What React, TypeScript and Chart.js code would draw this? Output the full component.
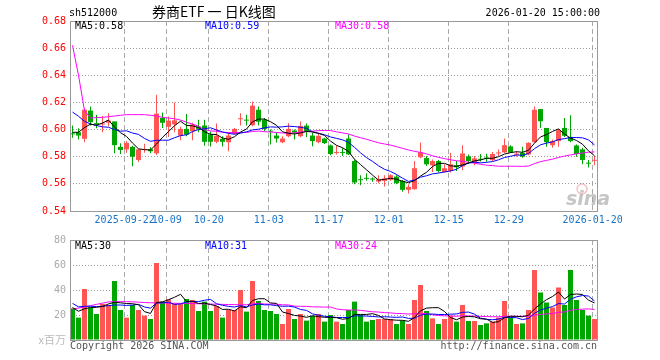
import React, { useEffect, useRef } from "react";
import { Chart, registerables } from "chart.js";
Chart.register(...registerables);

// ---------------- data ----------------
const dates = [
  "2025-09-09","2025-09-10","2025-09-11","2025-09-12","2025-09-15","2025-09-16","2025-09-17","2025-09-18","2025-09-19","2025-09-22",
  "2025-09-23","2025-09-24","2025-09-25","2025-09-26","2025-09-29","2025-09-30","2025-10-09","2025-10-10","2025-10-13","2025-10-14",
  "2025-10-15","2025-10-16","2025-10-17","2025-10-20","2025-10-21","2025-10-22","2025-10-23","2025-10-24","2025-10-27","2025-10-28",
  "2025-10-29","2025-10-30","2025-10-31","2025-11-03","2025-11-04","2025-11-05","2025-11-06","2025-11-07","2025-11-10","2025-11-11",
  "2025-11-12","2025-11-13","2025-11-14","2025-11-17","2025-11-18","2025-11-19","2025-11-20","2025-11-21","2025-11-24","2025-11-25",
  "2025-11-26","2025-11-27","2025-11-28","2025-12-01","2025-12-02","2025-12-03","2025-12-04","2025-12-05","2025-12-08","2025-12-09",
  "2025-12-10","2025-12-11","2025-12-12","2025-12-15","2025-12-16","2025-12-17","2025-12-18","2025-12-19","2025-12-22","2025-12-23",
  "2025-12-24","2025-12-25","2025-12-26","2025-12-29","2025-12-30","2025-12-31","2026-01-05","2026-01-06","2026-01-07","2026-01-08",
  "2026-01-09","2026-01-12","2026-01-13","2026-01-14","2026-01-15","2026-01-16","2026-01-19","2026-01-20",
];

const open = [
  0.597, 0.598, 0.5932, 0.614, 0.6045, 0.6038, 0.605, 0.606, 0.5873, 0.5854,
  0.5873, 0.5776, 0.585, 0.5855, 0.5825, 0.6085, 0.602, 0.6038, 0.5956, 0.6005,
  0.5988, 0.6022, 0.603, 0.5963, 0.591, 0.5932, 0.5907, 0.5968, 0.6076, 0.607,
  0.6032, 0.6146, 0.6073, 0.599, 0.5956, 0.5907, 0.5951, 0.5993, 0.5951, 0.6029,
  0.5956, 0.5907, 0.5934, 0.5883, 0.5827, 0.5832, 0.5934, 0.5768, 0.563, 0.5641,
  0.5636, 0.5617, 0.5622, 0.563, 0.5654, 0.5622, 0.5556, 0.5561, 0.5796, 0.579,
  0.5737, 0.5768, 0.5688, 0.5695, 0.5737, 0.5728, 0.5803, 0.5756, 0.5782, 0.579,
  0.5775, 0.5824, 0.5832, 0.5876, 0.5815, 0.5829, 0.5817, 0.5907, 0.6151, 0.6012,
  0.5885, 0.5915, 0.6012, 0.5946, 0.5883, 0.5854, 0.5753, 0.577,
];
const high = [
  0.603, 0.601, 0.6155, 0.617, 0.611, 0.61, 0.612, 0.606, 0.59, 0.5915,
  0.588, 0.5859, 0.5895, 0.587, 0.6256, 0.6125, 0.6097, 0.62, 0.602, 0.6115,
  0.605, 0.6073, 0.6073, 0.5985, 0.6044, 0.595, 0.598, 0.6012, 0.612, 0.611,
  0.6207, 0.617, 0.6085, 0.6, 0.598, 0.5951, 0.6046, 0.6, 0.606, 0.6044,
  0.5976, 0.5976, 0.5939, 0.589, 0.5883, 0.5865, 0.5963, 0.578, 0.5663, 0.5678,
  0.5646, 0.5663, 0.5663, 0.567, 0.5663, 0.5629, 0.5598, 0.5768, 0.5905, 0.5805,
  0.578, 0.5776, 0.5744, 0.5829, 0.5768, 0.5885, 0.5817, 0.5805, 0.582, 0.5822,
  0.5835, 0.5854, 0.5935, 0.5885, 0.584, 0.5873, 0.5907, 0.617, 0.6151, 0.6012,
  0.5927, 0.6005, 0.6085, 0.6105, 0.589, 0.5866, 0.5776, 0.5805,
];
const low = [
  0.594, 0.5927, 0.5907, 0.603, 0.601, 0.598, 0.6025, 0.5825, 0.582, 0.583,
  0.573, 0.5761, 0.583, 0.5825, 0.5812, 0.6012, 0.5946, 0.598, 0.5922, 0.595,
  0.5922, 0.598, 0.588, 0.5875, 0.59, 0.5875, 0.584, 0.5963, 0.603, 0.603,
  0.6025, 0.603, 0.5988, 0.589, 0.5905, 0.59, 0.5944, 0.5927, 0.5944, 0.5946,
  0.5878, 0.59, 0.5893, 0.581, 0.5817, 0.5805, 0.5812, 0.5598, 0.559, 0.5622,
  0.5615, 0.5605, 0.558, 0.5622, 0.5598, 0.5541, 0.5529, 0.5556, 0.5788, 0.5732,
  0.5688, 0.5683, 0.5683, 0.5683, 0.5695, 0.57, 0.5746, 0.5737, 0.5765, 0.5763,
  0.5768, 0.5805, 0.5825, 0.5829, 0.58, 0.5793, 0.581, 0.5902, 0.6012, 0.5873,
  0.5866, 0.5873, 0.5946, 0.5907, 0.58, 0.5744, 0.572, 0.5737,
];
const close = [
  0.5965, 0.5956, 0.6146, 0.6055, 0.604, 0.6045, 0.6066, 0.5885, 0.585, 0.5902,
  0.58, 0.5854, 0.5853, 0.584, 0.6117, 0.605, 0.6066, 0.6068, 0.6005, 0.5963,
  0.6037, 0.6005, 0.591, 0.591, 0.5955, 0.591, 0.5956, 0.6005, 0.6082, 0.6066,
  0.6176, 0.6058, 0.6005, 0.5985, 0.5934, 0.5934, 0.6005, 0.5978, 0.6027, 0.5988,
  0.5915, 0.5954, 0.59, 0.582, 0.583, 0.5828, 0.5817, 0.561, 0.5627, 0.5637,
  0.5632, 0.5632, 0.564, 0.5663, 0.5605, 0.5556, 0.5578, 0.5715, 0.5833, 0.5744,
  0.5768, 0.5695, 0.5715, 0.5744, 0.5722, 0.5824, 0.5768, 0.5788, 0.5778, 0.5786,
  0.582, 0.5828, 0.5885, 0.5832, 0.5819, 0.58, 0.5902, 0.6146, 0.6061, 0.5907,
  0.5915, 0.5995, 0.5954, 0.5915, 0.582, 0.5776, 0.5749, 0.5775,
];
// volume, millions
const volume = [
  25.3, 17.9, 40.8, 25.9, 20.8, 28.8, 28, 47.2, 24, 17.9,
  28, 24, 19.5, 16.8, 61.6, 30.7, 32.5, 29.3, 28.8, 32.8,
  32, 23.2, 30.7, 23.2, 27.2, 17.9, 24, 24, 40, 22.7,
  47.2, 31.2, 24, 23.2, 20.8, 12.8, 24.8, 16.8, 20.8, 15.5,
  19.2, 20.8, 14.7, 20, 14.7, 12.8, 24, 30.7, 20, 14.7,
  16, 16.8, 16.8, 16.8, 12.8, 15.5, 12.8, 32, 44, 23.2,
  17.3, 12.8, 16.8, 19.5, 14.7, 28, 15.2, 15.2, 12, 13.3,
  14.7, 17.9, 31.2, 17.9, 12.8, 13.3, 24, 56, 38, 30,
  26, 42, 28, 56, 32, 24, 19.5, 16.8,
];

// leading moving-average values (need earlier history)
const ma5Head = [0.598, 0.598, 0.6015, 0.604];
const ma10Head = [0.6129, 0.6098, 0.6061, 0.6041, 0.603, 0.602, 0.6017, 0.6, 0.5988];
const ma30Head = [
  0.662, 0.64, 0.614, 0.6085, 0.6088, 0.609, 0.6095, 0.61, 0.6105, 0.611,
  0.611, 0.611, 0.611, 0.6105, 0.61, 0.609, 0.6085, 0.608, 0.607, 0.6055,
  0.604, 0.6025, 0.6, 0.599, 0.5988, 0.598, 0.5978, 0.5978, 0.5978,
];
const volMa5Head = [26, 23, 25, 26];
const volMa10Head = [29.3, 26.5, 27, 27, 26.7, 27, 27.5, 28, 28];
const volMa30Head = [
  24.8, 25.5, 26.5, 27.5, 28.5, 29.5, 30.5, 30.7, 30.7, 30.7,
  30.5, 30.3, 30, 29.8, 29.7, 29.6, 29.5, 29.4, 29.3, 29.3,
  29.2, 29, 28.9, 28.8, 28.6, 28.5, 28.4, 28.3, 28.2,
];

const tickDates = ["2025-09-22","2025-10-09","2025-10-20","2025-11-03","2025-11-17","2025-12-01","2025-12-15","2025-12-29","2026-01-20"];
const tickLabels = ["2025-09-22","10-09","10-20","11-03","11-17","12-01","12-15","12-29","2026-01-20"];
const priceTicks = [0.54, 0.56, 0.58, 0.6, 0.62, 0.64, 0.66, 0.68];
const volTicks = [0, 20, 40, 60, 80];

// ---------------- styles ----------------
const RED = "#ff5555";
const GREEN = "#00a600";
const BLUE_TXT = "#1a75c8";
const MONO = '"DejaVu Sans Mono", monospace';
const X_MIN = -2.5 / 6;
const X_MAX = X_MIN + 527 / 6;
const TICK_SHIFT = -0.3;

function movingAverage(values: number[], n: number, head: number[]): number[] {
  return values.map((_, i) => {
    if (i < n - 1) return head[i];
    let s = 0;
    for (let k = i - n + 1; k <= i; k++) s += values[k];
    return s / n;
  });
}

const idx = dates.map((_, i) => i);
const tickIdx = tickDates.map((d) => dates.indexOf(d));
const candleColors = idx.map((i) => (close[i] >= open[i] ? RED : GREEN));
const ma5 = movingAverage(close, 5, ma5Head);
const ma10 = movingAverage(close, 10, ma10Head);
const ma30 = movingAverage(close, 30, ma30Head);
const vma5 = movingAverage(volume, 5, volMa5Head);
const vma10 = movingAverage(volume, 10, volMa10Head);
const vma30 = movingAverage(volume, 30, volMa30Head);

function xScale(showLabels: boolean): any {
  return {
    type: "linear",
    min: X_MIN,
    max: X_MAX,
    offset: false,
    afterBuildTicks: (s: any) => {
      s.ticks = tickIdx.map((v) => ({ value: v + TICK_SHIFT }));
    },
    afterFit: (s: any) => {
      s.height = showLabels ? 19 : 0;
    },
    ticks: {
      display: showLabels,
      autoSkip: false,
      maxRotation: 0,
      minRotation: 0,
      padding: 3,
      color: BLUE_TXT,
      font: { family: MONO, size: 10 },
      callback: (_v: any, i: number) => tickLabels[i],
    },
    grid: { color: "#aaaaaa", lineWidth: 1, drawTicks: false, offset: false },
    border: { display: false, dash: [5, 3] },
  };
}

function yScale(min: number, max: number, ticks: number[], color: string, fmt: (v: number) => string): any {
  return {
    min,
    max,
    beginAtZero: false,
    afterBuildTicks: (s: any) => {
      s.ticks = ticks.map((v) => ({ value: v }));
    },
    afterFit: (s: any) => {
      s.width = 70;
    },
    ticks: {
      color,
      padding: 4,
      font: { family: MONO, size: 10 },
      callback: (v: any) => fmt(Number(v)),
    },
    grid: {
      drawTicks: false,
      color: (ctx: any) =>
        ctx.tick && (Math.abs(ctx.tick.value - min) < 1e-9 || Math.abs(ctx.tick.value - max) < 1e-9)
          ? "rgba(0,0,0,0)"
          : "#999999",
    },
    border: { display: false, dash: [1, 2] },
  };
}

const framePlugin = {
  id: "frame",
  afterDraw(chart: any) {
    const { ctx, chartArea: a } = chart;
    ctx.save();
    ctx.strokeStyle = "#999999";
    ctx.lineWidth = 1;
    ctx.setLineDash([]);
    ctx.strokeRect(Math.round(a.left) + 0.5, Math.round(a.top) + 0.5, Math.round(a.right - a.left), Math.round(a.bottom - a.top));
    ctx.restore();
  },
};

function lineDs(label: string, data: number[], color: string): any {
  return {
    type: "line",
    label,
    data: idx.map((i) => ({ x: i, y: data[i] })),
    borderColor: color,
    borderWidth: 1,
    pointRadius: 0,
    tension: 0,
    order: 0,
  };
}

function text(ctx: CanvasRenderingContext2D, s: string, x: number, y: number, color: string, font: string, align: CanvasTextAlign = "left") {
  ctx.fillStyle = color;
  ctx.font = font;
  ctx.textAlign = align;
  ctx.textBaseline = "middle";
  ctx.fillText(s, x, y);
}

const mainTextPlugin = {
  id: "mainText",
  afterDraw(chart: any) {
    const ctx = chart.ctx as CanvasRenderingContext2D;
    ctx.save();
    const f = `10px ${MONO}`;
    text(ctx, "sh512000", 69, 13, "#000", f);
    text(ctx, "券商ETF 一 日K线图", 152, 12, "#000", '14px "Noto Sans CJK SC", sans-serif');
    text(ctx, "2026-01-20 15:00:00", 600, 13, "#000", f, "right");
    const n = close.length - 1;
    text(ctx, "MA5:" + ma5[n].toFixed(2), 75, 26.5, "#000", f);
    text(ctx, "MA10:" + ma10[n].toFixed(2), 205, 26.5, "#0000ff", f);
    text(ctx, "MA30:" + ma30[n].toFixed(2), 335, 26.5, "#ff00ff", f);
    // sina watermark
    ctx.strokeStyle = "rgba(230,120,120,0.45)";
    ctx.lineWidth = 1.5;
    ctx.beginPath();
    ctx.arc(582, 189, 5, 0, Math.PI * 2);
    ctx.stroke();
    text(ctx, "sina", 566, 200, "rgba(150,150,150,0.55)", 'italic bold 19px "DejaVu Sans", sans-serif');
    ctx.restore();
  },
};

const volTextPlugin = {
  id: "volText",
  afterDraw(chart: any) {
    const ctx = chart.ctx as CanvasRenderingContext2D;
    ctx.save();
    const f = `10px ${MONO}`;
    const n = volume.length - 1;
    text(ctx, "MA5:" + Math.round(vma5[n]), 75, 16.5, "#000", f);
    text(ctx, "MA10:" + Math.round(vma10[n]), 205, 16.5, "#0000ff", f);
    text(ctx, "MA30:" + Math.round(vma30[n]), 335, 16.5, "#ff00ff", f);
    text(ctx, "x百万", 66, 110, "#bbbbbb", '11px "Noto Sans CJK SC", sans-serif', "right");
    text(ctx, "Copyright 2026 SINA.COM", 70, 116.5, "#555555", f);
    text(ctx, "http://finance.sina.com.cn", 597, 116.5, "#555555", f, "right");
    ctx.restore();
  },
};

export default function App() {
  const mainRef = useRef<HTMLCanvasElement>(null);
  const volRef = useRef<HTMLCanvasElement>(null);

  useEffect(() => {
    const main = new Chart(mainRef.current as HTMLCanvasElement, {
      type: "line",
      data: {
        datasets: [
          lineDs("MA5", ma5, "#000000"),
          lineDs("MA10", ma10, "#0000ff"),
          lineDs("MA30", ma30, "#ff00ff"),
          {
            type: "bar",
            label: "body",
            data: idx.map((i) => ({ x: i, y: [open[i], close[i]] })),
            backgroundColor: candleColors,
            borderWidth: 0,
            barThickness: 5,
            minBarLength: 1,
            grouped: false,
            inflateAmount: 0,
            order: 1,
          } as any,
          {
            type: "bar",
            label: "wick",
            data: idx.map((i) => ({ x: i, y: [low[i], high[i]] })),
            backgroundColor: candleColors,
            borderWidth: 0,
            barThickness: 1,
            grouped: false,
            inflateAmount: 0,
            order: 2,
          } as any,
        ],
      },
      options: {
        animation: false,
        responsive: false,
        devicePixelRatio: 1,
        layout: { padding: { left: 0, right: 63, top: 21, bottom: 0 } },
        plugins: { legend: { display: false }, tooltip: { enabled: false }, title: { display: false } },
        events: [],
        scales: {
          x: xScale(true),
          y: yScale(0.54, 0.68, priceTicks, "#ff0000", (v) => v.toFixed(2)),
        },
      } as any,
      plugins: [framePlugin, mainTextPlugin],
    });

    const vol = new Chart(volRef.current as HTMLCanvasElement, {
      type: "line",
      data: {
        datasets: [
          lineDs("MA5", vma5, "#000000"),
          lineDs("MA10", vma10, "#0000ff"),
          lineDs("MA30", vma30, "#ff00ff"),
          {
            type: "bar",
            label: "volume",
            data: idx.map((i) => ({ x: i, y: volume[i] })),
            backgroundColor: candleColors,
            borderWidth: 0,
            barThickness: 5,
            grouped: false,
            inflateAmount: 0,
            order: 1,
          } as any,
        ],
      },
      options: {
        animation: false,
        responsive: false,
        devicePixelRatio: 1,
        layout: { padding: { left: 0, right: 63, top: 10, bottom: 20 } },
        plugins: { legend: { display: false }, tooltip: { enabled: false }, title: { display: false } },
        events: [],
        scales: {
          x: xScale(false),
          y: yScale(0, 80, volTicks, "#aaaaaa", (v) => (v === 0 ? "" : String(v))),
        },
      } as any,
      plugins: [framePlugin, volTextPlugin],
    });

    return () => {
      main.destroy();
      vol.destroy();
    };
  }, []);

  return (
    <div style={{ position: "absolute", left: 0, top: 0, width: 660, height: 360, background: "#ffffff" }}>
      <canvas ref={mainRef} width={660} height={230} style={{ position: "absolute", left: 0, top: 0, width: 660, height: 230 }} />
      <canvas ref={volRef} width={660} height={130} style={{ position: "absolute", left: 0, top: 230, width: 660, height: 130 }} />
    </div>
  );
}
